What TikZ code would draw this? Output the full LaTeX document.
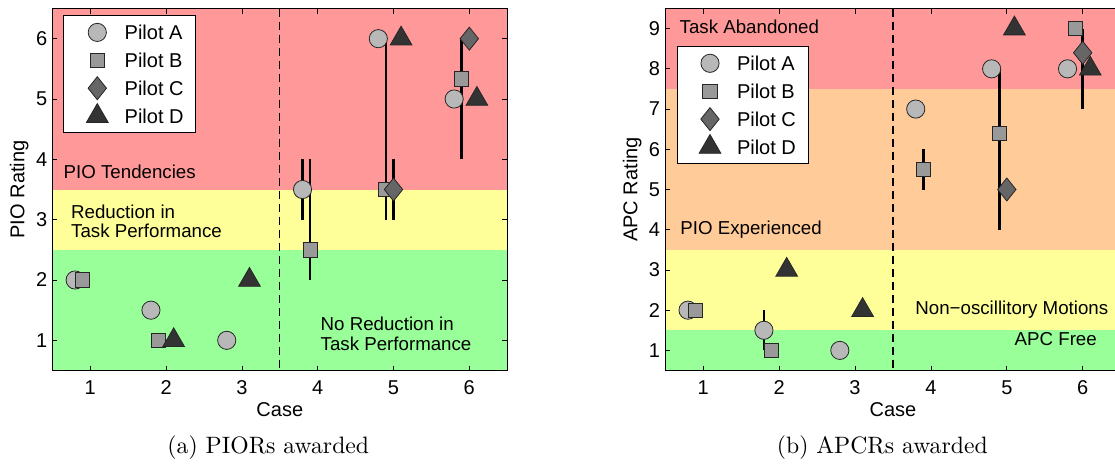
\documentclass[tikz,border=0pt]{standalone}
\usepackage{fontspec}
\newfontfamily\arialf{Liberation Sans}
\usetikzlibrary{shapes.geometric}
\definecolor{bandred}{RGB}{255,153,153}
\definecolor{bandyellow}{RGB}{255,255,153}
\definecolor{bandgreen}{RGB}{153,255,153}
\definecolor{bandorange}{RGB}{255,204,153}
\definecolor{fillA}{RGB}{184,184,184}
\definecolor{fillB}{RGB}{153,153,153}
\definecolor{fillC}{RGB}{102,102,102}
\definecolor{fillD}{RGB}{51,51,51}
\tikzset{
  mk/.style={draw=black!85, line width=0.8pt, inner sep=0pt, outer sep=0pt},
  mA/.style={mk, circle, fill=fillA, minimum size=18.2pt},
  mB/.style={mk, rectangle, fill=fillB, minimum size=14.3pt},
  mC/.style={mk, diamond, fill=fillC, minimum width=18.4pt, minimum height=23pt},
  mD/.style={mk, regular polygon, regular polygon sides=3, fill=fillD, minimum size=25pt},
  ebar/.style={line width=2.6pt, black},
  axbox/.style={line width=0.9pt, black},
  tickmark/.style={line width=0.7pt, black},
  midline/.style={line width=1.3pt, black, dash pattern=on 8pt off 5pt},
  ticklab/.style={font=\arialf\fontsize{20}{24}\selectfont, inner sep=0pt},
  axlab/.style={font=\arialf\fontsize{20}{24}\selectfont, inner sep=0pt, anchor=base},
  ann/.style={font=\arialf\fontsize{18.7}{22}\selectfont, inner sep=0pt, anchor=base west},
  legtext/.style={font=\arialf\fontsize{20}{24}\selectfont, inner sep=0pt, anchor=west},
  legbox/.style={draw=black, fill=white, line width=0.9pt},
  captext/.style={inner sep=0pt, anchor=base, scale=2.37},
}
\begin{document}
\begin{tikzpicture}[x=1pt,y=-1pt]
\useasboundingbox (0,0) rectangle (1115,466);
\fill[white] (0,0) rectangle (1115,466);

% ================= Left plot: PIO Rating =================
\begin{scope}[x=75.8pt, y=60.333pt, shift={(14.5pt,-400.67pt)}]
  \fill[bandgreen]  (0.5,0.5) rectangle (6.5,2.5);
  \fill[bandyellow] (0.5,2.5) rectangle (6.5,3.5);
  \fill[bandred]    (0.5,3.5) rectangle (6.5,6.5);
  \foreach \i in {1,...,6} {
    \draw[tickmark] (\i,0.5) -- ++(0,5pt);
    \draw[tickmark] (\i,6.5) -- ++(0,-5pt);
    \draw[tickmark] (0.5,\i) -- ++(5pt,0);
    \draw[tickmark] (6.5,\i) -- ++(-5pt,0);
    \node[ticklab, anchor=base] (lxt\i) at ([yshift=-23.8pt]\i,0.5) {\i};
    \node[ticklab, anchor=east] (lyt\i) at ([xshift=-5pt]0.5,\i) {\i};
  }
  \coordinate (ldb) at (3.5,0.5);
  \coordinate (ldt) at (3.5,6.5);
  \draw[midline] (ldt) -- (ldb);
  \node[axlab] (lxlab) at ([yshift=-45.5pt]3.5,0.5) {Case};
  \node[axlab, rotate=90] (lylab) at ([xshift=-28pt]0.5,3.5) {PIO Rating};
  % error bars
  \draw[ebar] (3.8,3) -- (3.8,4);
  \draw[ebar] (3.9,2) -- (3.9,4);
  \draw[ebar] (4.9,3) -- (4.9,6);
  \draw[ebar] (5.0,3) -- (5.0,4);
  \draw[ebar] (5.9,4) -- (5.9,6);
  % Pilot A
  \foreach \p [count=\k] in {(0.8,2),(1.8,1.5),(2.8,1),(3.8,3.5),(4.8,6),(5.8,5)}
    \node[mA] (lA\k) at \p {};
  % Pilot B
  \foreach \p [count=\k] in {(0.9,2),(1.9,1),(3.9,2.5),(4.9,3.5),(5.9,5.333)}
    \node[mB] (lB\k) at \p {};
  % Pilot C
  \foreach \p [count=\k] in {(5.0,3.5),(6.0,6)}
    \node[mC] (lC\k) at \p {};
  % Pilot D
  \foreach \p [count=\k] in {(2.1,1),(3.1,2),(5.1,6),(6.1,5)}
    \node[mD] (lD\k) at \p {};
  \draw[axbox] (0.5,0.5) rectangle (6.5,6.5);
\end{scope}

% left annotations (pixel coordinates)
\node[ann] (la1) at (63.5,178.3) {PIO Tendencies};
\node[ann] (la2) at (71,218.3) {Reduction in};
\node[ann] (la3) at (71,237.6) {Task Performance};
\node[ann] (la4) at (320.5,330) {No Reduction in};
\node[ann] (la5) at (320.5,350.5) {Task Performance};

% left legend
\draw[legbox] (63.3,15.3) rectangle (195.3,132.7);
\node[mA] (lgA) at (97.3,32.4) {};
\node[mB] (lgB) at (97.3,60.3) {};
\node[mC] (lgC) at (97.3,88.2) {};
\node[mD] (lgD) at (97.3,116.1) {};
\node[legtext] (lgtA) at (124.5,32.4) {Pilot A};
\node[legtext] (lgtB) at (124.5,60.3) {Pilot B};
\node[legtext] (lgtC) at (124.5,88.2) {Pilot C};
\node[legtext] (lgtD) at (124.5,116.1) {Pilot D};

% ================= Right plot: APC Rating =================
\begin{scope}[x=75.9pt, y=40.222pt, shift={(627.3pt,-390.61pt)}]
  \fill[bandgreen]  (0.5,0.5) rectangle (6.5,1.5);
  \fill[bandyellow] (0.5,1.5) rectangle (6.5,3.5);
  \fill[bandorange] (0.5,3.5) rectangle (6.5,7.5);
  \fill[bandred]    (0.5,7.5) rectangle (6.5,9.5);
  \foreach \i in {1,...,6} {
    \draw[tickmark] (\i,0.5) -- ++(0,5pt);
    \draw[tickmark] (\i,9.5) -- ++(0,-5pt);
    \node[ticklab, anchor=base] (rxt\i) at ([yshift=-23.8pt]\i,0.5) {\i};
  }
  \foreach \i in {1,...,9} {
    \draw[tickmark] (0.5,\i) -- ++(5pt,0);
    \node[ticklab, anchor=east] (ryt\i) at ([xshift=-5pt]0.5,\i) {\i};
  }
  \coordinate (rdb) at (3.5,0.5);
  \coordinate (rdt) at (3.5,9.5);
  \draw[midline] (rdt) -- (rdb);
  \node[axlab] (rxlab) at ([yshift=-45.5pt]3.5,0.5) {Case};
  \node[axlab, rotate=90] (rylab) at ([xshift=-28pt]0.5,5) {APC Rating};
  % error bars
  \draw[ebar] (1.8,1) -- (1.8,2);
  \draw[ebar] (3.9,5) -- (3.9,6);
  \draw[ebar] (4.9,4) -- (4.9,8);
  \draw[ebar] (6.0,7) -- (6.0,9);
  % Pilot A
  \foreach \p [count=\k] in {(0.8,2),(1.8,1.5),(2.8,1),(3.8,7),(4.8,8),(5.8,8)}
    \node[mA] (rA\k) at \p {};
  % Pilot B
  \foreach \p [count=\k] in {(0.9,2),(1.9,1),(3.9,5.5),(4.9,6.4),(5.9,9)}
    \node[mB] (rB\k) at \p {};
  % Pilot C
  \foreach \p [count=\k] in {(5.0,5),(6.0,8.4)}
    \node[mC] (rC\k) at \p {};
  % Pilot D
  \foreach \p [count=\k] in {(2.1,3),(3.1,2),(5.1,9),(6.1,8)}
    \node[mD] (rD\k) at \p {};
  \draw[axbox] (6.5,0.5) -- (0.5,0.5) -- (0.5,9.5) -- (6.5,9.5);
\end{scope}

% right annotations
\node[ann] (ra1) at (679.5,33.3) {Task Abandoned};
\node[ann] (ra2) at (680.2,234.3) {PIO Experienced};
\node[ann] (ra3) at (915.2,314) {Non\char"2212 oscillitory Motions};
\node[ann] (ra4) at (1014.5,345) {APC Free};

% right legend
\draw[legbox] (677.3,46) rectangle (808.7,163.3);
\node[mA] (rgA) at (710,63.3) {};
\node[mB] (rgB) at (710,91.2) {};
\node[mC] (rgC) at (710,119.1) {};
\node[mD] (rgD) at (710,147.0) {};
\node[legtext] (rgtA) at (736.8,63.3) {Pilot A};
\node[legtext] (rgtB) at (736.8,91.2) {Pilot B};
\node[legtext] (rgtC) at (736.8,119.1) {Pilot C};
\node[legtext] (rgtD) at (736.8,147.0) {Pilot D};

% captions
\node[captext] (capa) at (268.3,453.3) {\fontsize{10}{12}\selectfont (a) PIORs awarded};
\node[captext] (capb) at (882.3,453.3) {\fontsize{10}{12}\selectfont (b) APCRs awarded};
\end{tikzpicture}
\end{document}
